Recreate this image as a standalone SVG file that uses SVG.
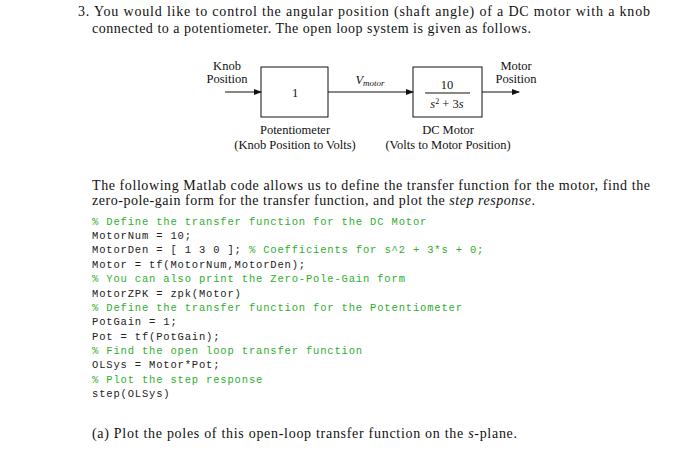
<svg xmlns="http://www.w3.org/2000/svg" width="686" height="450" viewBox="0 0 686 450">
<style>
.t{font-family:"Liberation Serif",serif;font-size:14px;fill:#111}
.s{font-family:"Liberation Serif",serif;font-size:12.5px;fill:#111}
.c{font-family:"Liberation Mono",monospace;font-size:10.5px;letter-spacing:0.83px;fill:#222}
.g{fill:#2eae2e}
.b{fill:none;stroke:#111;stroke-width:1}
</style>
<defs><marker id="a" markerWidth="8" markerHeight="6" refX="7" refY="3" orient="auto"><path d="M0,0L8,3L0,6z" fill="#111"/></marker></defs>
<rect width="686" height="450" fill="#fff"/>
<text class="t" x="78" y="16" textLength="572" lengthAdjust="spacing">3. You would like to control the angular position (shaft angle) of a DC motor with a knob</text>
<text class="t" x="92" y="33" textLength="439" lengthAdjust="spacing">connected to a potentiometer. The open loop system is given as follows.</text>
<g id="connectors">
<line class="b" x1="225" y1="92" x2="261" y2="92" marker-end="url(#a)"/>
<line class="b" x1="328" y1="92" x2="413" y2="92" marker-end="url(#a)"/>
<line class="b" x1="482" y1="92" x2="519" y2="92" marker-end="url(#a)"/>
<text class="s" x="370" y="84" text-anchor="middle" font-style="italic">V<tspan font-size="9" dy="2">motor</tspan></text>
</g>
<g id="pot">
<rect class="b" x="261" y="67" width="67" height="50"/>
<text class="s" x="295" y="97" text-anchor="middle">1</text>
<text class="s" x="295" y="134" text-anchor="middle">Potentiometer</text>
<text class="s" x="295" y="149" text-anchor="middle">(Knob Position to Volts)</text>
</g>
<g id="motor">
<rect class="b" x="413" y="67" width="69" height="50"/>
<text class="s" x="447" y="89" text-anchor="middle">10</text>
<line class="b" x1="425" y1="93" x2="470" y2="93"/>
<text class="s" x="447" y="108" text-anchor="middle"><tspan font-style="italic">s</tspan><tspan font-size="8" dy="-4">2</tspan><tspan dy="4"> + 3</tspan><tspan font-style="italic">s</tspan></text>
<text class="s" x="448" y="134" text-anchor="middle">DC Motor</text>
<text class="s" x="448" y="149" text-anchor="middle">(Volts to Motor Position)</text>
</g>
<g id="in"><text class="s" x="227" y="70" text-anchor="middle">Knob</text><text class="s" x="227" y="83" text-anchor="middle">Position</text></g>
<g id="out"><text class="s" x="516" y="70" text-anchor="middle">Motor</text><text class="s" x="516" y="83" text-anchor="middle">Position</text></g>
<text class="t" x="92" y="190" textLength="558" lengthAdjust="spacing">The following Matlab code allows us to define the transfer function for the motor, find the</text>
<text class="t" x="92" y="205" textLength="443" lengthAdjust="spacing">zero-pole-gain form for the transfer function, and plot the <tspan font-style="italic">step response</tspan>.</text>
<text class="c g" x="92" y="225">% Define the transfer function for the DC Motor</text>
<text class="c" x="92" y="239">MotorNum = 10;</text>
<text class="c" x="92" y="253">MotorDen = [ 1 3 0 ]; <tspan class="g">% Coefficients for s^2 + 3*s + 0;</tspan></text>
<text class="c" x="92" y="268">Motor = tf(MotorNum,MotorDen);</text>
<text class="c g" x="92" y="282">% You can also print the Zero-Pole-Gain form</text>
<text class="c" x="92" y="297">MotorZPK = zpk(Motor)</text>
<text class="c g" x="92" y="311">% Define the transfer function for the Potentiometer</text>
<text class="c" x="92" y="325">PotGain = 1;</text>
<text class="c" x="92" y="340">Pot = tf(PotGain);</text>
<text class="c g" x="92" y="354">% Find the open loop transfer function</text>
<text class="c" x="92" y="368">OLSys = Motor*Pot;</text>
<text class="c g" x="92" y="383">% Plot the step response</text>
<text class="c" x="92" y="397">step(OLSys)</text>
<text class="t" x="92" y="438" textLength="425" lengthAdjust="spacing">(a) Plot the poles of this open-loop transfer function on the <tspan font-style="italic">s</tspan>-plane.</text>
</svg>
